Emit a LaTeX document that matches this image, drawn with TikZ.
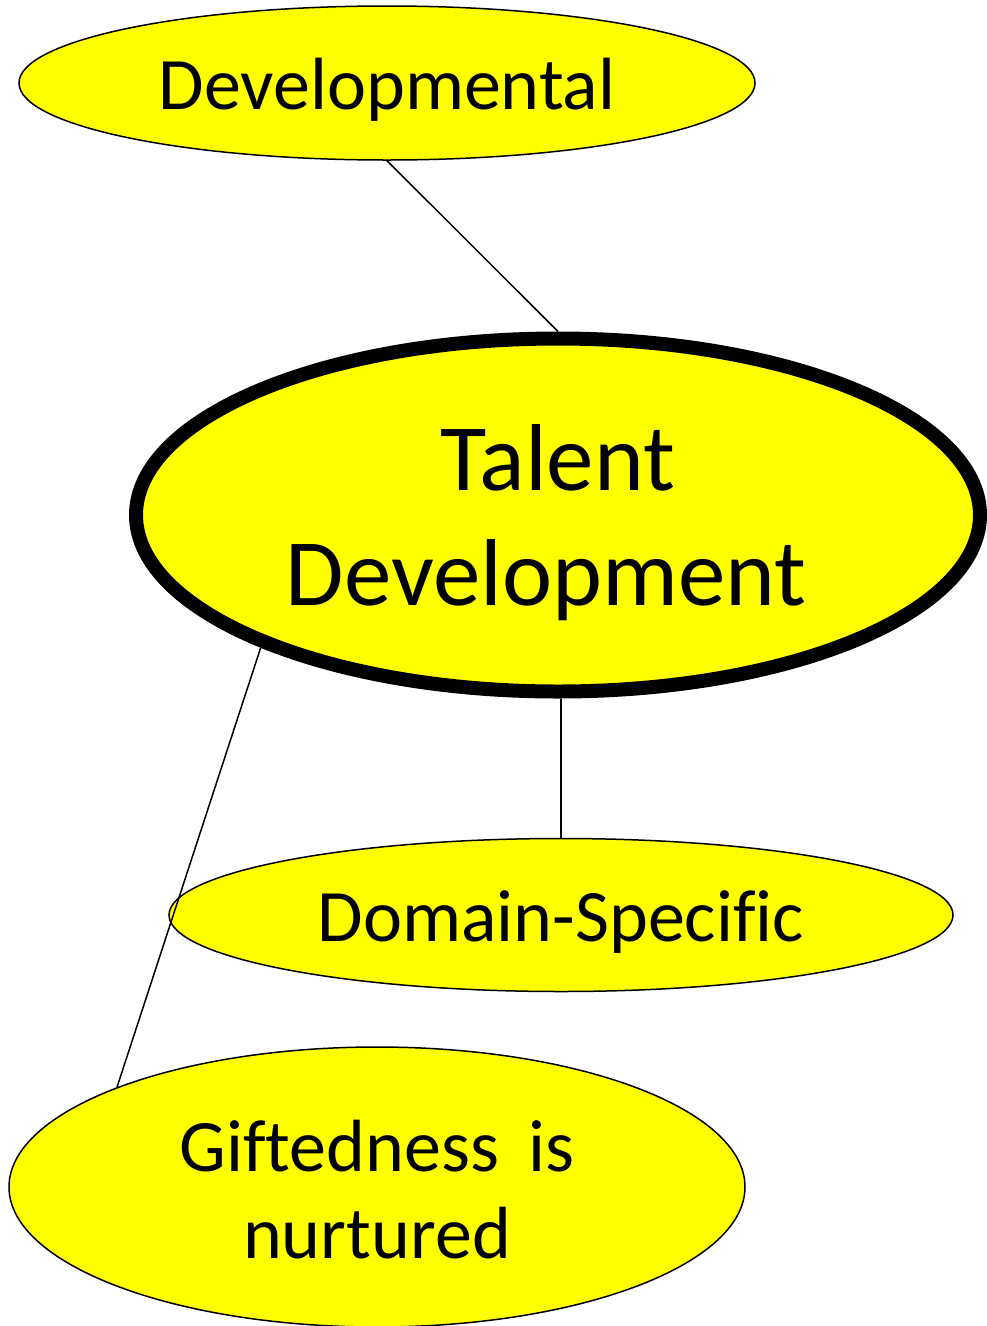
\documentclass[tikz,border=0pt]{standalone}
\usepackage{fontspec}
\setmainfont{Carlito}[Ligatures=NoCommon]
\usetikzlibrary{shapes.geometric}
\definecolor{yel}{RGB}{255,255,0}
\begin{document}
\begin{tikzpicture}[x=1pt,y=-1pt,
  bubble/.style={ellipse, draw=black, fill=yel, line width=1.5pt, inner sep=0pt},
  txt/.style={align=center, font=\fontsize{74}{87}\selectfont},
  link/.style={draw=black, line width=1.5pt}]
\useasboundingbox (0,0) rectangle (987,1326);
\node[bubble, minimum width=736pt, minimum height=154pt,
  label={[txt, yshift=-7pt]center:Developmental}] (dev) at (387,83) {};
\node[bubble, line width=14pt, minimum width=844pt, minimum height=353pt,
  label={[txt, font=\fontsize{95}{115}\selectfont, yshift=-8pt]center:{Talent\\Development\hspace*{24pt}}}] (talent) at (558,515) {};
\node[bubble, minimum width=784pt, minimum height=153pt,
  label={[txt, yshift=-7pt]center:Domain-Specific}] (domain) at (561,915) {};
\node[bubble, minimum width=736pt, minimum height=280pt,
  label={[txt, yshift=-3pt]center:{Giftedness\hspace{0.4em}is\\nurtured}}] (gifted) at (377,1187) {};
\draw[link] (dev.south) -- (talent.north);
\draw[link] (domain.north |- talent.south) -- (domain.north);
\draw[link] (talent.204) -- (gifted.159);
\end{tikzpicture}
\end{document}
